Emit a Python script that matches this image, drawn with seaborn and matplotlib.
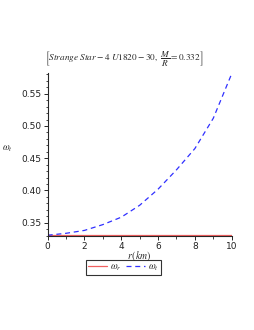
import numpy as np
import pandas as pd
import matplotlib
matplotlib.use("Agg")
import matplotlib.pyplot as plt
import seaborn as sns
from matplotlib.ticker import MultipleLocator

# radius in km and the two curves
r_km = [0, 1, 2, 3, 4, 5, 6, 7, 8, 9, 10]
omega_r = [0.331, 0.331, 0.331, 0.331, 0.331, 0.331, 0.331, 0.331, 0.331, 0.331, 0.331]
omega_t = [0.3305, 0.3335, 0.338, 0.347, 0.3585, 0.377, 0.402, 0.432, 0.465, 0.512, 0.581]

sns.set_style("ticks")
plt.rcParams["font.family"] = ["DejaVu Sans"]
plt.rcParams["mathtext.fontset"] = "stix"

fig = plt.figure(figsize=(2.55, 3.3), dpi=100)
ax = fig.add_axes([0.187, 0.2858, 0.7216, 0.4930])

df = pd.DataFrame({"r": r_km, "wr": omega_r, "wt": omega_t})
sns.lineplot(data=df, x="r", y="wr", ax=ax, color="#f06060", lw=0.9,
             label=r"$\omega_r$")
sns.lineplot(data=df, x="r", y="wt", ax=ax, color="#3030ff", lw=0.9,
             label=r"$\omega_t$")
ax.lines[1].set_dashes((4, 3))

ax.set_xlim(0, 10)
ax.set_ylim(0.3298, 0.5822)
sns.despine(ax=ax)
for s in ("left", "bottom"):
    ax.spines[s].set_linewidth(0.8)

ax.xaxis.set_major_locator(MultipleLocator(2))
ax.xaxis.set_minor_locator(MultipleLocator(1))
ax.yaxis.set_major_locator(MultipleLocator(0.05))
ax.yaxis.set_minor_locator(MultipleLocator(0.01))
ax.set_yticks([0.35, 0.40, 0.45, 0.50, 0.55])
ax.set_yticklabels(["0.35", "0.40", "0.45", "0.50", "0.55"])
ax.tick_params(which="major", length=3, width=0.7, labelsize=6.5, pad=1.5,
               labelcolor="#222222")
ax.tick_params(which="minor", length=1.8, width=0.6)

ax.set_xlabel(r"$r\,(km)$", fontsize=7, labelpad=-1)
ax.set_ylabel(r"$\omega_t$", fontsize=7, rotation=0, labelpad=6)
ax.yaxis.set_label_coords(-0.22, 0.5)

fig.text(0.486, 0.822,
         r"$\left[\mathit{Strange\ Star} - 4\ \mathit{U1820} - 30,\ \dfrac{M}{R} = 0.332\right]$",
         ha="center", va="center", fontsize=6.7)

ax.get_legend().remove()
leg = fig.legend(*ax.get_legend_handles_labels(), loc="center",
                 bbox_to_anchor=(0.484, 0.189), ncol=2, fontsize=7,
                 frameon=True, fancybox=False, handlelength=2.0,
                 handletextpad=0.3, columnspacing=0.4, borderpad=0.2,
                 borderaxespad=0)
leg.get_frame().set_edgecolor("black")
leg.get_frame().set_linewidth(0.8)

fig.savefig("out.png", dpi=100)
